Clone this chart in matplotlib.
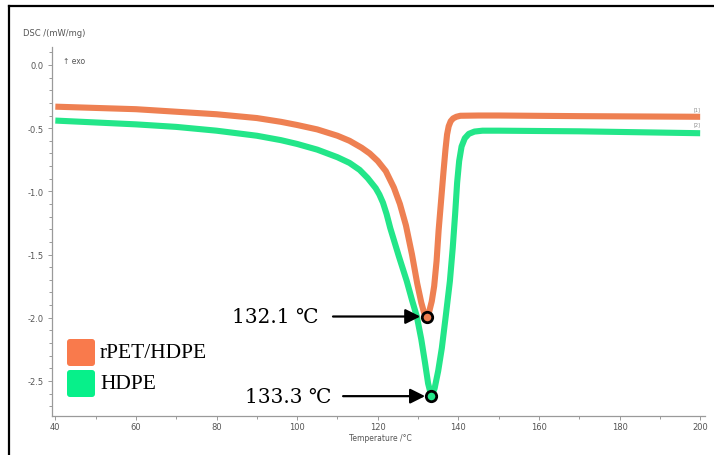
import matplotlib
matplotlib.use("Agg")
import matplotlib.pyplot as plt
from matplotlib.patches import FancyBboxPatch
from matplotlib.lines import Line2D
from matplotlib.ticker import MultipleLocator

# ---- data ----
temp_rpet = [40, 50, 60, 70, 80, 90, 96, 100, 105, 110, 113, 116, 118, 120, 122, 124, 125.5,
             127, 128.5, 129.8, 130.8, 131.5, 132.1, 132.7, 133.4, 134.0, 134.6, 135.1, 135.7,
             136.3, 136.8, 137.2, 137.6, 138.1, 138.7, 139.5, 140.5, 145, 150, 170, 200]
dsc_rpet = [-0.33, -0.34, -0.35, -0.37, -0.39, -0.42, -0.45, -0.475, -0.51, -0.56, -0.60,
            -0.655, -0.70, -0.76, -0.84, -0.97, -1.10, -1.27, -1.50, -1.73, -1.88, -1.96,
            -1.99, -1.96, -1.87, -1.75, -1.55, -1.31, -1.08, -0.85, -0.67, -0.55, -0.485,
            -0.445, -0.423, -0.41, -0.402, -0.40, -0.40, -0.405, -0.41]

temp_hdpe = [40, 50, 60, 70, 80, 90, 96, 100, 105, 110, 113, 115.5, 117.5, 118.5, 119.5,
             120.4, 121.3, 122.2, 123.1, 125.2, 127.2, 128.5, 129.7, 130.8, 131.7, 132.5,
             133.3, 134.1, 135.0, 135.9, 136.9, 137.9, 138.6, 139.2, 139.7, 140.2, 140.8,
             141.6, 142.6, 144, 146, 150, 170, 200]
dsc_hdpe = [-0.44, -0.455, -0.47, -0.49, -0.52, -0.56, -0.595, -0.625, -0.67, -0.73, -0.775,
            -0.83, -0.895, -0.935, -0.975, -1.025, -1.09, -1.18, -1.29, -1.51, -1.71, -1.86,
            -1.99, -2.17, -2.35, -2.52, -2.62, -2.56, -2.42, -2.24, -1.98, -1.71, -1.45,
            -1.18, -0.93, -0.76, -0.645, -0.58, -0.545, -0.527, -0.52, -0.52, -0.525, -0.54]

series_names = ["rPET/HDPE", "HDPE"]
peak_temps = [132.1, 133.3]
peak_values = [-1.99, -2.62]
peak_labels = ["132.1 \u2103", "133.3 \u2103"]
x_ticks = [40, 60, 80, 100, 120, 140, 160, 180, 200]
y_ticks = [0.0, -0.5, -1.0, -1.5, -2.0, -2.5]

# ---- style ----
line_colors = ["#EE8052", "#23E689"]
legend_colors = ["#F97A4C", "#07F08A"]
gray = "#555555"

W, H, DPI = 714, 456, 100
fig = plt.figure(figsize=(W / DPI, H / DPI), dpi=DPI)
fig.patch.set_facecolor("white")

ax = fig.add_axes([51.7 / W, 1 - 417 / H, (705 - 51.7) / W, (417 - 48) / H])
ax.set_xlim(39.1, 201.2)
ax.set_ylim(-2.777, 0.142)

ax.plot(temp_rpet, dsc_rpet, color=line_colors[0], lw=4.4, solid_joinstyle="round",
        solid_capstyle="butt", zorder=3)
ax.plot(temp_hdpe, dsc_hdpe, color=line_colors[1], lw=4.4, solid_joinstyle="round",
        solid_capstyle="butt", zorder=2)

for s in ["top", "right"]:
    ax.spines[s].set_visible(False)
for s in ["left", "bottom"]:
    ax.spines[s].set_color("#9a9a9a")
    ax.spines[s].set_linewidth(0.9)

ax.set_xticks(x_ticks)
ax.set_yticks(y_ticks)
ax.set_xticklabels([str(t) for t in x_ticks])
ax.set_yticklabels([f"{t:.1f}" for t in y_ticks])
ax.xaxis.set_minor_locator(MultipleLocator(10))
ax.yaxis.set_minor_locator(MultipleLocator(0.1))
ax.tick_params(which="both", direction="out", colors="#9a9a9a", labelcolor=gray,
               labelsize=6, width=0.7)
ax.tick_params(which="major", length=3)
ax.tick_params(axis="x", which="major", pad=1.5)
ax.tick_params(axis="y", which="major", pad=3)
ax.tick_params(which="minor", length=2)

# axis labels (as in source software)
fig.text(23 / W, 1 - 33 / H, "DSC /(mW/mg)", fontsize=6, color=gray, ha="left", va="center")
fig.text(63 / W, 1 - 61 / H, "\u2191 exo", fontsize=5.5, color=gray, ha="left", va="center")
fig.text(380 / W, 1 - 439 / H, "Temperature /\u00b0C", fontsize=5.5, color=gray,
         ha="center", va="center")
fig.text(697 / W, 1 - 110 / H, "[1]", fontsize=3.5, color="#888888", ha="center", va="center")
fig.text(697 / W, 1 - 125 / H, "[2]", fontsize=3.5, color="#888888", ha="center", va="center")

# peak markers & annotations
arrow_tails = [108.9, 111.4]
text_right = [105.3, 108.6]
for i in range(2):
    ax.annotate("", xy=(peak_temps[i], peak_values[i]), xytext=(arrow_tails[i], peak_values[i]),
                arrowprops=dict(arrowstyle="-|>,head_length=0.9,head_width=0.45", color="black",
                                lw=1.6, shrinkA=0, shrinkB=4.5), zorder=5)
    ax.plot([peak_temps[i]], [peak_values[i]], marker="o", ms=7.5, mfc=line_colors[i],
            mec="black", mew=2.0, zorder=6)
    ax.text(text_right[i], peak_values[i], peak_labels[i], ha="right", va="center",
            fontsize=14.5, family=["DejaVu Serif"], color="black", zorder=6)

# legend (rounded squares)
box_y = [89 / DPI, 58 / DPI]
for i in range(2):
    p = FancyBboxPatch((0.67, box_y[i]), 0.28, 0.27, boxstyle="round,pad=0,rounding_size=0.03",
                       transform=fig.dpi_scale_trans, facecolor=legend_colors[i],
                       edgecolor="none", zorder=10)
    fig.patches.append(p)
    fig.text(1.0, box_y[i] + 0.135, series_names[i], transform=fig.dpi_scale_trans,
             fontsize=15.5, family=["Liberation Serif", "DejaVu Serif"], va="center", ha="left")

# outer frame (top and left edges)
fig.add_artist(Line2D([8.5 / W, 1.0], [1 - 7 / H, 1 - 7 / H], color="black", lw=1.6,
                      transform=fig.transFigure))
fig.add_artist(Line2D([8.5 / W, 8.5 / W], [0.0, 1 - 7 / H], color="black", lw=1.6,
                      transform=fig.transFigure))

fig.savefig("out.png", dpi=DPI, facecolor="white")
